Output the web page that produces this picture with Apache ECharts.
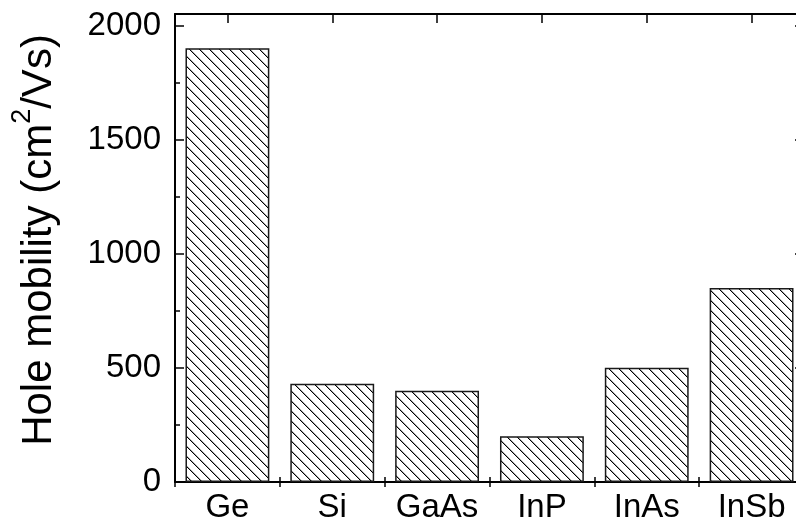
<!DOCTYPE html>
<html>
<head>
<meta charset="utf-8">
<script src="https://cdn.jsdelivr.net/npm/echarts@6/dist/echarts.min.js"></script>
<style>
  html, body { margin: 0; padding: 0; background: #fff; }
  #chart { width: 796px; height: 525px; }
</style>
</head>
<body>
<div id="chart"></div>
<script>
// Hole mobility of common semiconductors
const materials = ['Ge', 'Si', 'GaAs', 'InP', 'InAs', 'InSb'];
const holeMobility = [1900, 430, 400, 200, 500, 850];
const yTicks = [0, 500, 1000, 1500, 2000];

// Diagonal hatch tile ("\" direction), drawn as crisp pixel steps
function makeHatch() {
  const size = 10;
  const c = document.createElement('canvas');
  c.width = size; c.height = size;
  const ctx = c.getContext('2d');
  ctx.fillStyle = '#fff';
  ctx.fillRect(0, 0, size, size);
  ctx.fillStyle = '#000';
  for (let i = 0; i < size; i++) {
    ctx.fillRect(i, i, 1, 1);
  }
  ctx.fillStyle = 'rgba(0,0,0,0.35)';
  for (let i = 0; i < size; i++) {
    ctx.fillRect((i + 1) % size, i, 1, 1);
  }
  return c;
}

const font = 'Liberation Sans, Arial, sans-serif';
const axisLine = { show: true, onZero: false, lineStyle: { color: '#000', width: 2 } };
const noLine = { show: false };
const tickStyle = { color: '#000', width: 1.5 };

const chart = echarts.init(document.getElementById('chart'), null, { renderer: 'canvas' });

const yMax = 2050;

function catAxis(position, centred, len, withLine, labels) {
  return {
    type: 'category', data: materials, position: position,
    axisLine: withLine ? axisLine : noLine,
    axisTick: { show: true, inside: true, alignWithLabel: centred, length: len, lineStyle: tickStyle },
    axisLabel: labels
      ? { show: true, interval: 0, fontFamily: font, fontSize: 33, color: '#000', margin: 9 }
      : { show: false },
    splitLine: { show: false }
  };
}

function valAxis(position, step, len, withLine) {
  return {
    type: 'value', min: 0, max: yMax, interval: step, position: position,
    axisLine: withLine ? axisLine : noLine,
    axisTick: { show: true, inside: true, length: len, lineStyle: tickStyle },
    axisLabel: { show: false },
    splitLine: { show: false }
  };
}

const yMain = valAxis('left', 500, 9, true);
yMain.axisLabel = {
  show: true, fontFamily: font, fontSize: 33, color: '#000', margin: 14,
  showMaxLabel: false,
  formatter: v => (yTicks.indexOf(v) >= 0 ? String(v) : '')
};
yMain.name = '{a|Hole mobility (cm}{s|2}{a|/Vs)}';
yMain.nameLocation = 'middle';
yMain.nameRotate = 90;
yMain.nameGap = 106;
yMain.nameTextStyle = {
  padding: [0, 0, 0, 16],
  rich: {
    a: { fontFamily: font, fontSize: 42, color: '#000', lineHeight: 60 },
    s: { fontFamily: font, fontSize: 27, color: '#000', lineHeight: 27, verticalAlign: 'top' }
  }
};

chart.setOption({
  animation: false,
  backgroundColor: '#fff',
  // plot frame runs slightly past the right edge of the canvas
  grid: { left: 175, right: -8, top: 14, bottom: 43, outerBoundsMode: 'none', containLabel: false },
  xAxis: [
    catAxis('bottom', true, 9, true, true),
    catAxis('bottom', false, 5, false, false),
    catAxis('top', true, 9, true, false),
    catAxis('top', false, 5, false, false)
  ],
  yAxis: [
    yMain,
    valAxis('left', 250, 5, false),
    valAxis('right', 500, 9, true),
    valAxis('right', 250, 5, false)
  ],
  series: [
    {
      type: 'bar',
      xAxisIndex: 0,
      yAxisIndex: 0,
      data: holeMobility,
      barCategoryGap: '20%',
      itemStyle: {
        color: { image: makeHatch(), repeat: 'repeat' },
        borderColor: '#1a1a1a',
        borderWidth: 1.5
      },
      z: 1
    }
  ]
});
</script>
</body>
</html>
